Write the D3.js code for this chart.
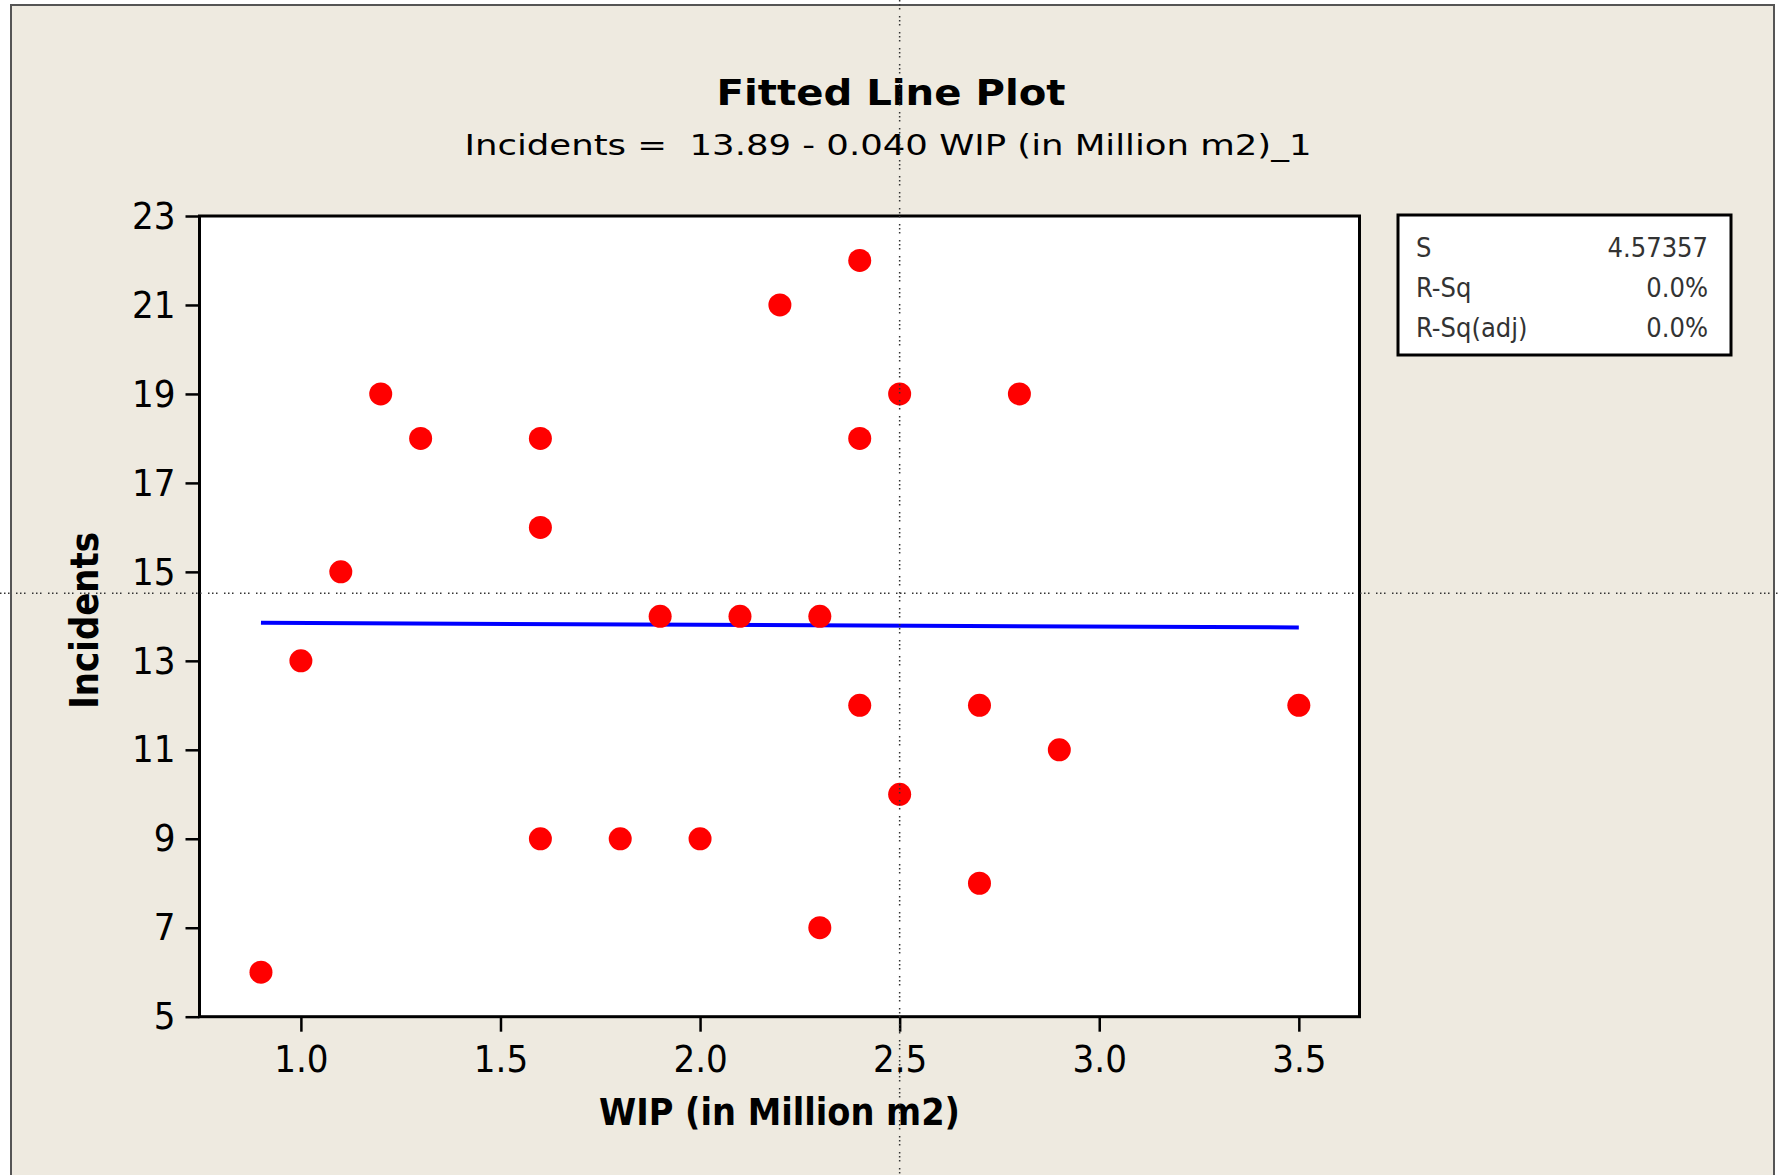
<!DOCTYPE html>
<html>
<head>
<meta charset="utf-8">
<script src="https://cdn.jsdelivr.net/npm/d3@7"></script>
<style>
  body { margin: 0; background: #fff; }
  text { font-family: "DejaVu Sans Condensed", "DejaVu Sans", sans-serif; font-stretch: condensed; }
</style>
</head>
<body>
<svg id="chart"></svg>
<script>
// data
const wip = [0.9, 1.0, 1.1, 1.2, 1.3, 1.6, 1.6, 1.6, 1.8, 1.9, 2.0, 2.1, 2.2, 2.3, 2.3, 2.4, 2.4, 2.4, 2.5, 2.5, 2.7, 2.7, 2.8, 2.9, 3.5];
const incidents = [6, 13, 15, 19, 18, 18, 16, 9, 9, 14, 9, 14, 21, 14, 7, 22, 18, 12, 19, 10, 12, 8, 19, 11, 12];
const xTicks = [1.0, 1.5, 2.0, 2.5, 3.0, 3.5];
const yTicks = [5, 7, 9, 11, 13, 15, 17, 19, 21, 23];
const fitIntercept = 13.89;
const fitSlope = -0.040;
const statLabels = ["S", "R-Sq", "R-Sq(adj)"];
const statValues = ["4.57357", "0.0%", "0.0%"];
const crossX = 2.5, crossY = 14.52;   // cursor crosshair left in the screenshot

const W = 1779, H = 1175;
const plot = { left: 199.5, top: 216, right: 1359.5, bottom: 1016.7 };

const svg = d3.select("#chart").attr("width", W).attr("height", H);

// panel background
svg.append("rect")
    .attr("x", 11).attr("y", 5)
    .attr("width", 1763).attr("height", H + 10)
    .attr("fill", "#eeeae0")
    .attr("stroke", "#555")
    .attr("stroke-width", 2);

const x = d3.scaleLinear().domain([0.746, 3.652]).range([plot.left, plot.right]);
const y = d3.scaleLinear().domain([5, 23]).range([plot.bottom, plot.top]);

// plot area
svg.append("rect")
    .attr("x", plot.left).attr("y", plot.top)
    .attr("width", plot.right - plot.left)
    .attr("height", plot.bottom - plot.top)
    .attr("fill", "#fff");

// fitted line, drawn across the data range
const xExt = d3.extent(wip);
svg.append("line")
    .attr("x1", x(xExt[0])).attr("y1", y(fitIntercept + fitSlope * xExt[0]))
    .attr("x2", x(xExt[1])).attr("y2", y(fitIntercept + fitSlope * xExt[1]))
    .attr("stroke", "#0000ff")
    .attr("stroke-width", 4);

// points
svg.append("g").selectAll("circle")
    .data(wip.map((d, i) => ({ x: d, y: incidents[i] })))
    .join("circle")
    .attr("cx", d => x(d.x))
    .attr("cy", d => y(d.y))
    .attr("r", 11.5)
    .attr("fill", "#ff0000");

// frame
svg.append("rect")
    .attr("x", plot.left).attr("y", plot.top)
    .attr("width", plot.right - plot.left)
    .attr("height", plot.bottom - plot.top)
    .attr("fill", "none")
    .attr("stroke", "#000")
    .attr("stroke-width", 3);

// Axes
const xAxis = svg.append("g")
    .attr("transform", `translate(0,${plot.bottom})`)
    .call(d3.axisBottom(x).tickValues(xTicks).tickFormat(d3.format(".1f")).tickSize(15).tickPadding(13))
    .call(g => g.select(".domain").remove());

const yAxis = svg.append("g")
    .attr("transform", `translate(${plot.left},0)`)
    .call(d3.axisLeft(y).tickValues(yTicks).tickFormat(d3.format("d")).tickSize(14).tickPadding(10))
    .call(g => g.select(".domain").remove());

[xAxis, yAxis].forEach(g => {
    g.selectAll("line").attr("stroke", "#000").attr("stroke-width", 2.5);
    g.selectAll("text")
        .attr("fill", "#000")
        .style("font-size", "38px")
        .style("font-family", null);
});

// titles
svg.append("text")
    .attr("x", 891).attr("y", 105)
    .attr("text-anchor", "middle")
    .attr("textLength", 349)
    .attr("lengthAdjust", "spacingAndGlyphs")
    .style("font-size", "36px")
    .style("font-weight", "bold")
    .text("Fitted Line Plot");

svg.append("text")
    .attr("x", 888).attr("y", 155)
    .attr("text-anchor", "middle")
    .attr("textLength", 847)
    .attr("lengthAdjust", "spacingAndGlyphs")
    .style("font-size", "27.5px")
    .style("white-space", "pre")
    .text(`Incidents =  ${fitIntercept.toFixed(2)} - ${Math.abs(fitSlope).toFixed(3)} WIP (in Million m2)_1`);

svg.append("text")
    .attr("x", (plot.left + plot.right) / 2).attr("y", 1125)
    .attr("text-anchor", "middle")
    .attr("textLength", 361)
    .attr("lengthAdjust", "spacingAndGlyphs")
    .style("font-size", "37px")
    .style("font-weight", "bold")
    .text("WIP (in Million m2)");

svg.append("text")
    .attr("transform", `translate(98,${(plot.top + plot.bottom) / 2 + 4}) rotate(-90)`)
    .attr("text-anchor", "middle")
    .attr("textLength", 177)
    .attr("lengthAdjust", "spacingAndGlyphs")
    .style("font-size", "39px")
    .style("font-weight", "bold")
    .text("Incidents");

// stats box
const box = svg.append("g");
box.append("rect")
    .attr("x", 1398).attr("y", 215)
    .attr("width", 333).attr("height", 140)
    .attr("fill", "#fff")
    .attr("stroke", "#000")
    .attr("stroke-width", 3);

statLabels.forEach((lab, i) => {
    box.append("text")
        .attr("x", 1416).attr("y", 257 + i * 40)
        .style("font-size", "27px")
        .attr("fill", "#333")
        .text(lab);
    box.append("text")
        .attr("x", 1708).attr("y", 257 + i * 40)
        .attr("text-anchor", "end")
        .style("font-size", "27px")
        .attr("fill", "#333")
        .text(statValues[i]);
});

// crosshair (dotted)
svg.append("line")
    .attr("x1", 0).attr("x2", W)
    .attr("y1", y(crossY)).attr("y2", y(crossY))
    .attr("stroke", "#333").attr("stroke-width", 1.5)
    .attr("stroke-dasharray", "1.5 2.5 1.5 2.5 1.5 6.5");

svg.append("line")
    .attr("x1", x(crossX)).attr("x2", x(crossX))
    .attr("y1", 0).attr("y2", H)
    .attr("stroke", "#333").attr("stroke-width", 1.5)
    .attr("stroke-dasharray", "1.5 2.5 1.5 2.5 1.5 6.5");
</script>
</body>
</html>
